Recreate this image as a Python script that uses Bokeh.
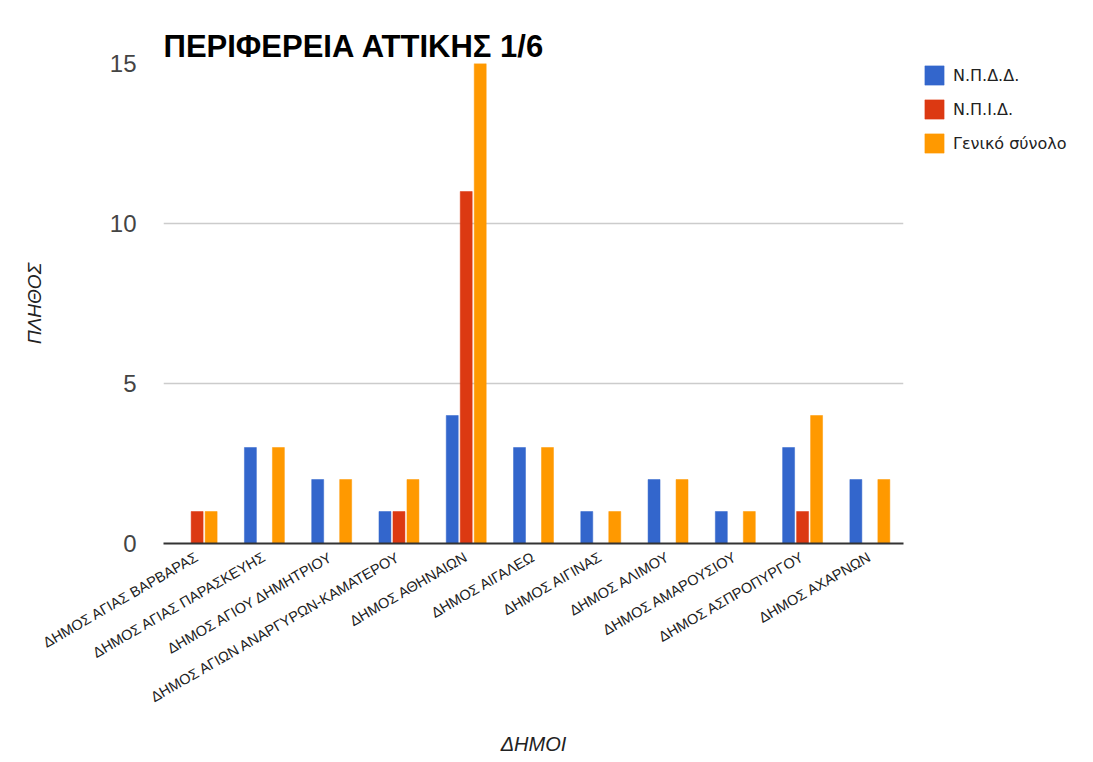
import math
from bokeh.plotting import figure
from bokeh.models import ColumnDataSource, FactorRange, Range1d, FixedTicker, Legend, LegendItem, Title
from bokeh.layouts import row
from bokeh.transform import dodge
from bokeh.embed import file_html
from bokeh.resources import INLINE

categories = [
    "ΔΗΜΟΣ ΑΓΙΑΣ ΒΑΡΒΑΡΑΣ",
    "ΔΗΜΟΣ ΑΓΙΑΣ ΠΑΡΑΣΚΕΥΗΣ",
    "ΔΗΜΟΣ ΑΓΙΟΥ ΔΗΜΗΤΡΙΟΥ",
    "ΔΗΜΟΣ ΑΓΙΩΝ ΑΝΑΡΓΥΡΩΝ-ΚΑΜΑΤΕΡΟΥ",
    "ΔΗΜΟΣ ΑΘΗΝΑΙΩΝ",
    "ΔΗΜΟΣ ΑΙΓΑΛΕΩ",
    "ΔΗΜΟΣ ΑΙΓΙΝΑΣ",
    "ΔΗΜΟΣ ΑΛΙΜΟΥ",
    "ΔΗΜΟΣ ΑΜΑΡΟΥΣΙΟΥ",
    "ΔΗΜΟΣ ΑΣΠΡΟΠΥΡΓΟΥ",
    "ΔΗΜΟΣ ΑΧΑΡΝΩΝ",
]
npdd = [0, 3, 2, 1, 4, 3, 1, 2, 1, 3, 2]
npid = [1, 0, 0, 1, 11, 0, 0, 0, 0, 1, 0]
total = [1, 3, 2, 2, 15, 3, 1, 2, 1, 4, 2]
series_names = ["Ν.Π.Δ.Δ.", "Ν.Π.Ι.Δ.", "Γενικό σύνολο"]
y_ticks = [0, 5, 10, 15]
title_text = "ΠΕΡΙΦΕΡΕΙΑ ΑΤΤΙΚΗΣ 1/6"

colors = ["#3366cc", "#dc3912", "#ff9900"]
fields = ["npdd", "npid", "total"]

source = ColumnDataSource(dict(cat=categories, npdd=npdd, npid=npid, total=total))

H = 758
p = figure(
    x_range=FactorRange(*categories),
    y_range=Range1d(0, 15),
    width=908, height=H,
    output_backend="svg", toolbar_location=None,
    min_border_left=163, min_border_right=5, min_border_top=63, min_border_bottom=215,
    title=None,
)
p.outline_line_color = None

# real title first, then an invisible spacer between it and the plot area
p.add_layout(Title(text=title_text, text_font="Liberation Sans", text_font_size="31px",
                   text_font_style="bold", text_color="#000000", align="left",
                   standoff=0), "above")
p.add_layout(Title(text="-", text_font_size="10px", text_alpha=0, standoff=13), "above")

bw = 0.178
off = 0.208
renderers = []
for field, o, c in zip(fields, [-off, 0, off], colors):
    r = p.vbar(x=dodge("cat", o, range=p.x_range), top=field, width=bw, source=source,
               fill_color=c, line_color=c, line_width=0.5)
    renderers.append(r)

# Axes
p.yaxis.ticker = FixedTicker(ticks=y_ticks)
p.yaxis.axis_line_color = None
p.yaxis.major_tick_line_color = None
p.yaxis.minor_tick_line_color = None
p.yaxis.major_label_text_font = "Liberation Sans"
p.yaxis.major_label_text_font_size = "24px"
p.yaxis.major_label_text_color = "#444444"
p.yaxis.major_label_standoff = 21
p.yaxis.axis_label = "ΠΛΗΘΟΣ"
p.yaxis.axis_label_text_font = "Liberation Sans"
p.yaxis.axis_label_text_font_size = "19px"
p.yaxis.axis_label_text_font_style = "italic"
p.yaxis.axis_label_text_color = "#222222"
p.yaxis.axis_label_standoff = 62

p.xaxis.axis_line_color = "#333333"
p.xaxis.axis_line_width = 2
p.xaxis.major_tick_line_color = None
p.xaxis.minor_tick_line_color = None
p.xaxis.major_label_orientation = math.pi / 6
p.xaxis.major_label_text_font = "Liberation Sans"
p.xaxis.major_label_text_font_size = "14.5px"
p.xaxis.major_label_text_color = "#222222"
p.xaxis.major_label_standoff = 6
p.xaxis.axis_label = "ΔΗΜΟΙ"
p.xaxis.axis_label_text_font = "Liberation Sans"
p.xaxis.axis_label_text_font_size = "20px"
p.xaxis.axis_label_text_font_style = "italic"
p.xaxis.axis_label_text_color = "#222222"
p.xaxis.axis_label_standoff = 18

p.xgrid.grid_line_color = None
p.ygrid.grid_line_color = "#cccccc"
p.ygrid.grid_line_width = 1.5

# legend in a narrow companion figure to the right of the chart
# (same bars, hidden, so only their legend entries show)
lf = figure(
    width=167, height=H, x_range=FactorRange(*categories), y_range=Range1d(100, 101),
    output_backend="svg", toolbar_location=None,
    min_border_left=14, min_border_right=0, min_border_top=62, min_border_bottom=0,
)
lf.xaxis.visible = False
lf.yaxis.visible = False
lf.grid.visible = False
lf.outline_line_color = None
legend_renderers = []
for field, c in zip(fields, colors):
    lr = lf.vbar(x="cat", top=field, width=0.5, source=source,
                 fill_color=c, line_color=c, line_width=0.5)
    lr.visible = False
    legend_renderers.append(lr)

legend = Legend(
    items=[LegendItem(label=n, renderers=[r]) for n, r in zip(series_names, legend_renderers)],
    location="top_left",
    glyph_width=24, glyph_height=24, label_height=24,
    spacing=10, padding=0, margin=0, label_standoff=7,
    label_text_font="DejaVu Sans", label_text_font_size="16px", label_text_color="#222222",
    border_line_color=None, background_fill_alpha=0,
    inactive_fill_alpha=0,
)
lf.add_layout(legend, "center")

layout = row(p, lf, spacing=0)
open("out.html", "w").write(file_html(layout, INLINE))
